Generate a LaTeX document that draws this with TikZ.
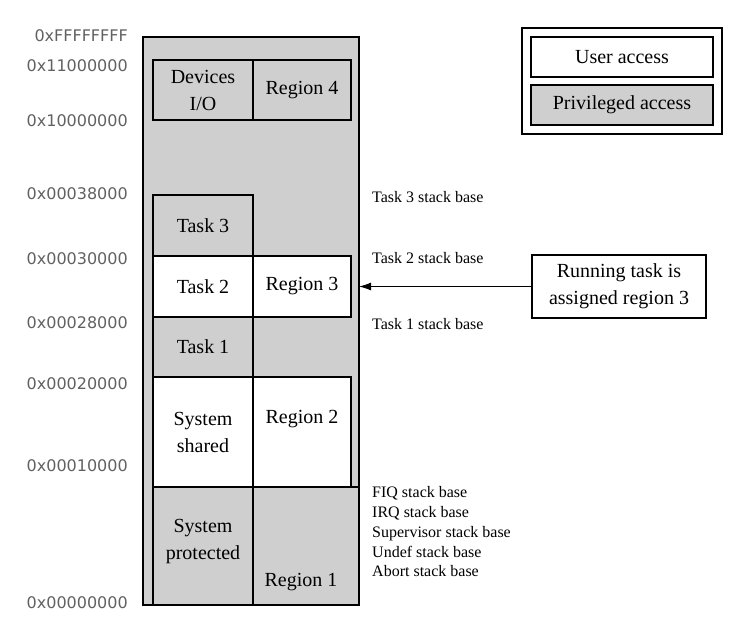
\documentclass[tikz,border=0pt]{standalone}
\usepackage{fontspec}
\setmainfont{Liberation Serif}
\newfontfamily\addrfont{DejaVu Sans}
\usetikzlibrary{arrows.meta}

\begin{document}
\begin{tikzpicture}[x=1pt,y=-1pt,
  cell/.style n args={2}{draw=black,line width=1.1pt,inner sep=0pt,outer sep=0pt,
    anchor=north west,minimum width=#1pt,minimum height=#2pt,align=center,
    font=\fontsize{20}{27}\selectfont},
  priv/.style={fill=kFill},
  user/.style={fill=white},
  txt/.style={inner sep=0pt,align=center,font=\fontsize{20}{27}\selectfont},
  stack/.style={anchor=base west,inner sep=0pt,font=\fontsize{16}{18}\selectfont},
  addr/.style={anchor=base east,inner sep=0pt,text=kAddr,font=\addrfont\fontsize{16}{18}\selectfont}]
  \definecolor{kFill}{rgb}{0.81,0.81,0.81}
  \definecolor{kAddr}{rgb}{0.38,0.38,0.38}
  \useasboundingbox (0,0) rectangle (735,633);

  % memory column
  \node[cell={216}{568},priv] (mem) at (143,37) {};

  % devices
  \node[cell={100}{60},priv] (dev)  at (153,60) {Devices\\I/O};
  \node[cell={98}{60},priv]  (reg4) at (253,60) {Region 4};

  % tasks
  \node[cell={100}{61},priv] (task3) at (153,195) {Task 3};
  \node[cell={100}{61},user] (task2) at (153,256) {Task 2};
  \node[cell={98}{61},user]  (reg3)  at (253,256) {Region 3};
  \node[cell={100}{60},priv] (task1) at (153,317) {Task 1};

  % system
  \node[cell={100}{110},user] (sysshared) at (153,377) {System\\shared};
  \node[cell={98}{110},user]  (reg2)      at (253,377) {};
  \node[cell={100}{118},priv] (sysprot)   at (153,487) {};
  \node[cell={106}{118},priv] (reg1)      at (253,487) {};
  \node[txt] (reg2txt)    at (302,419) {Region 2};
  \node[txt] (sysprottxt) at (203,541) {System\\protected};
  \node[txt] (reg1txt)    at (301,582) {Region 1};

  % addresses
  \foreach \y/\a/\n in {35/FFFFFFFF/a1, 65/11000000/a2, 120/10000000/a3,
                        193/00038000/a4, 258/00030000/a5, 322/00028000/a6,
                        383/00020000/a7, 465/00010000/a8, 602/00000000/a9}
  {
    \node[addr] (\n) at (128,\y+6) {0x\a};
  }

  % stack bases
  \foreach \y/\t/\n in {197/Task 3/s1, 258/Task 2/s2, 324/Task 1/s3,
                        492/FIQ/s4, 512/IRQ/s5, 532/Supervisor/s6,
                        552/Undef/s7, 571/Abort/s8}
  {
    \node[stack] (\n) at (372,\y+5) {\t{} stack base};
  }

  % running task
  \node[cell={174}{63},user] (run) at (532,255) {Running task is\\assigned region 3};
  \draw[line width=1pt,-{Latex[length=12pt,width=8pt]}] (run.west) -- (run.west -| mem.east);

  % legend
  \node[cell={200}{106},user] (legend)  at (522,28) {};
  \node[cell={182}{40},user]  (useracc) at (531,37) {User access};
  \node[cell={182}{40},priv]  (privacc) at (531,85) {Privileged access};
\end{tikzpicture}
\end{document}
